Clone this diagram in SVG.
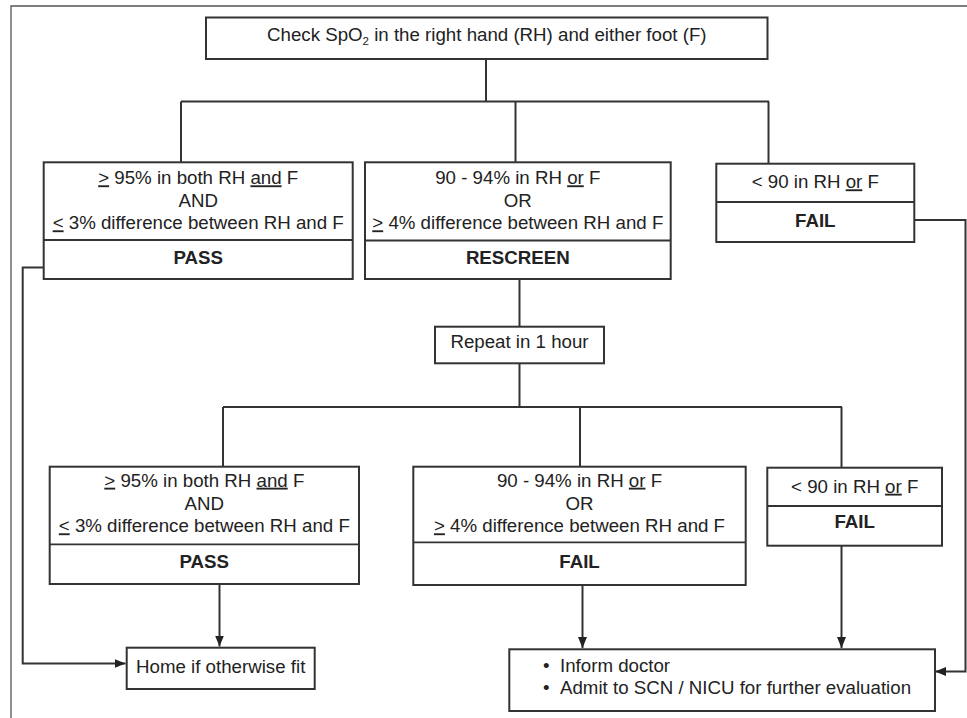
<svg xmlns="http://www.w3.org/2000/svg" width="967" height="718" viewBox="0 0 967 718">
<style>
.box{fill:#fff;stroke:#333;stroke-width:2}
.div{stroke:#333;stroke-width:1.8}
.ln{fill:none;stroke:#333;stroke-width:2}
.t{font-family:"Liberation Sans",Arial,sans-serif;font-size:18.7px;fill:#222;text-anchor:middle}
.b{font-weight:bold}
.l{text-anchor:start}
.u{text-decoration:underline}
</style>
<defs>
<marker id="ah" markerUnits="userSpaceOnUse" markerWidth="12" markerHeight="12" viewBox="0 0 12 12" refX="11" refY="6" orient="auto">
<path d="M0,1.5 L11,6 L0,10.5 Z" fill="#222"/>
</marker>
</defs>
<rect width="967" height="718" fill="#fff"/>
<path d="M11,718 V6 H967" fill="none" stroke="#555" stroke-width="1.3"/>
<g id="connectors">
<path class="ln" d="M486,59 V101.5"/>
<path class="ln" d="M181,101.5 H769"/>
<path class="ln" d="M181,101.5 V162"/>
<path class="ln" d="M515.5,101.5 V162"/>
<path class="ln" d="M768.5,101.5 V163.5"/>
<path class="ln" d="M519.5,279 V326.5"/>
<path class="ln" d="M519.5,363.5 V407"/>
<path class="ln" d="M223,407 H842"/>
<path class="ln" d="M223,407 V466.5"/>
<path class="ln" d="M580,407 V466.5"/>
<path class="ln" d="M841.5,407 V467.5"/>
<path class="ln" d="M43.5,267.5 H22.7 V663.5 H125.5" marker-end="url(#ah)"/>
<path class="ln" d="M219.5,584 V646.5" marker-end="url(#ah)"/>
<path class="ln" d="M582.5,585 V648" marker-end="url(#ah)"/>
<path class="ln" d="M841.5,545.5 V648" marker-end="url(#ah)"/>
<path class="ln" d="M914.5,220 H965.5 V671.5 H935" marker-end="url(#ah)"/>
</g>
<g id="start">
<rect class="box" x="206" y="17.5" width="561.5" height="41.5"/>
<text class="t" x="486.8" y="40.7">Check SpO<tspan font-size="11.5" dy="4">2</tspan><tspan dy="-4"> in the right hand (RH) and either foot (F)</tspan></text>
</g>
<g id="pass1">
<rect class="box" x="43.7" y="162.3" width="309" height="116.7"/>
<line class="div" x1="43.7" y1="240" x2="352.7" y2="240"/>
<text class="t" x="198.2" y="184.3"><tspan class="u">&gt;</tspan> 95% in both RH <tspan class="u">and</tspan> F</text>
<text class="t" x="198.2" y="206.5">AND</text>
<text class="t" x="198.2" y="229.3"><tspan class="u">&lt;</tspan> 3% difference between RH and F</text>
<text class="t b" x="198.2" y="264.3">PASS</text>
</g>
<g id="rescreen">
<rect class="box" x="365" y="162.3" width="305.7" height="116.7"/>
<line class="div" x1="365" y1="240.5" x2="670.7" y2="240.5"/>
<text class="t" x="517.8" y="184.3">90 - 94% in RH <tspan class="u">or</tspan> F</text>
<text class="t" x="517.8" y="206.5">OR</text>
<text class="t" x="517.8" y="229.3"><tspan class="u">&gt;</tspan> 4% difference between RH and F</text>
<text class="t b" x="517.8" y="264.3">RESCREEN</text>
</g>
<g id="fail1">
<rect class="box" x="716.3" y="163.7" width="198" height="78.3"/>
<line class="div" x1="716.3" y1="202" x2="914.3" y2="202"/>
<text class="t" x="815.3" y="188.3">&lt; 90 in RH <tspan class="u">or</tspan> F</text>
<text class="t b" x="815.3" y="226.7">FAIL</text>
</g>
<g id="repeat">
<rect class="box" x="435" y="326.7" width="169" height="36.6"/>
<text class="t" x="519.5" y="348.3">Repeat in 1 hour</text>
</g>
<g id="pass2">
<rect class="box" x="49.7" y="466.7" width="309.3" height="117.3"/>
<line class="div" x1="49.7" y1="544.3" x2="359" y2="544.3"/>
<text class="t" x="204.3" y="486.7"><tspan class="u">&gt;</tspan> 95% in both RH <tspan class="u">and</tspan> F</text>
<text class="t" x="204.3" y="509.5">AND</text>
<text class="t" x="204.3" y="532.3"><tspan class="u">&lt;</tspan> 3% difference between RH and F</text>
<text class="t b" x="204.3" y="568">PASS</text>
</g>
<g id="fail2">
<rect class="box" x="413.3" y="466.7" width="332.4" height="118.3"/>
<line class="div" x1="413.3" y1="542.3" x2="745.7" y2="542.3"/>
<text class="t" x="579.5" y="486.7">90 - 94% in RH <tspan class="u">or</tspan> F</text>
<text class="t" x="579.5" y="509.5">OR</text>
<text class="t" x="579.5" y="532.3"><tspan class="u">&gt;</tspan> 4% difference between RH and F</text>
<text class="t b" x="579.5" y="567.7">FAIL</text>
</g>
<g id="fail3">
<rect class="box" x="767.3" y="467.7" width="174.7" height="78"/>
<line class="div" x1="767.3" y1="506" x2="942" y2="506"/>
<text class="t" x="854.7" y="492.7">&lt; 90 in RH <tspan class="u">or</tspan> F</text>
<text class="t b" x="854.7" y="528.3">FAIL</text>
</g>
<g id="home">
<rect class="box" x="126.7" y="647.7" width="188" height="41.3"/>
<text class="t" x="220.7" y="672.7">Home if otherwise fit</text>
</g>
<g id="admit">
<rect class="box" x="509.3" y="649.3" width="425.7" height="61.7"/>
<text class="t l" x="543" y="671.7">•</text>
<text class="t l" x="560" y="671.7">Inform doctor</text>
<text class="t l" x="543" y="694.3">•</text>
<text class="t l" x="560" y="694.3">Admit to SCN / NICU for further evaluation</text>
</g>
</svg>
